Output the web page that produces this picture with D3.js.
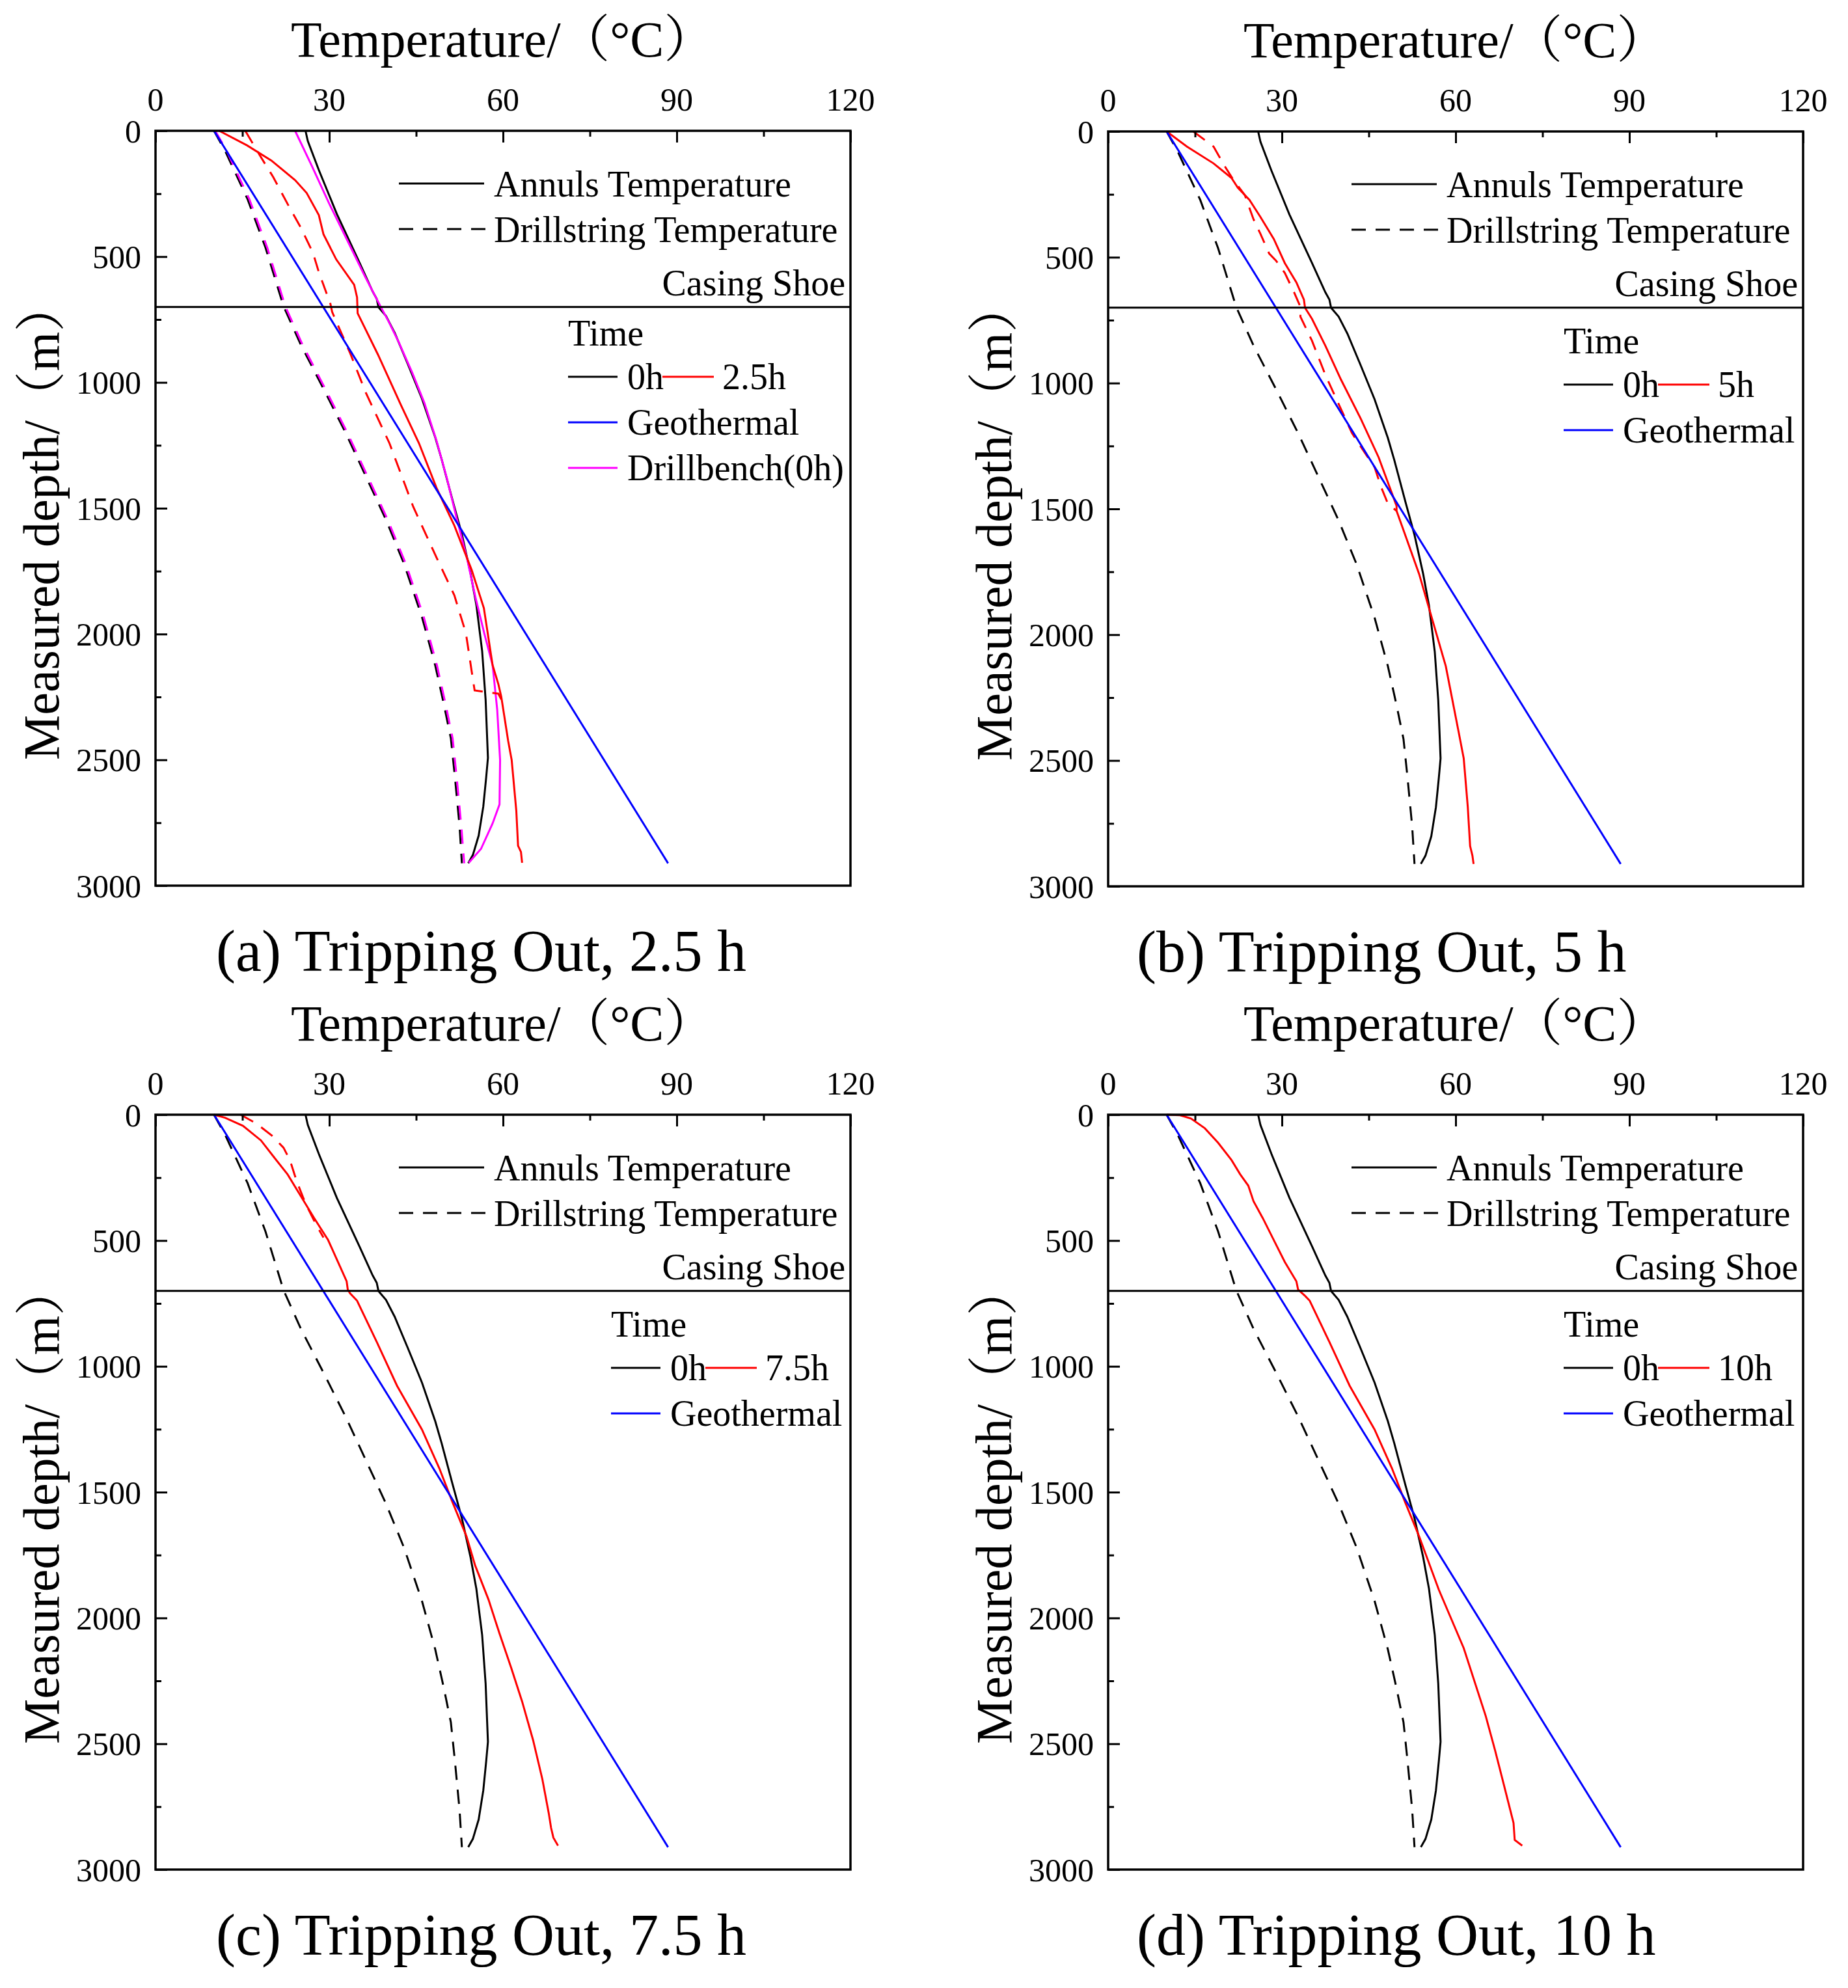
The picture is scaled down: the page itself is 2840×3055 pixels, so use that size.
<!DOCTYPE html>
<html>
<head>
<meta charset="utf-8">
<script src="https://cdn.jsdelivr.net/npm/d3@7"></script>
<style>
  body { margin: 0; background: #fff; }
  text { font-family: "Liberation Serif", "Times New Roman", "Noto Serif CJK SC", "Noto Sans CJK SC", serif; fill: #000; }
</style>
</head>
<body>
<svg id="chart" width="2840" height="3055"></svg>
<script>
"use strict";

// axis ticks
var tempTicks = [0, 30, 60, 90, 120];
var tempMinorTicks = [15, 45, 75, 105];
var depthTicks = [0, 500, 1000, 1500, 2000, 2500, 3000];
var depthMinorTicks = [250, 750, 1250, 1750, 2250, 2750];
var casingShoeDepth = 700;

// every point is [temperature (°C), measured depth (m)]
var geothermal = [[10.1, 0], [88.5, 2911]];

var annulus0h = [[25.9, 0], [26.3, 41], [28.2, 156], [31.3, 330], [35.2, 523], [37.5, 639], [38.2, 668],
    [38.5, 701], [39.8, 736], [41.3, 803], [43.6, 929], [46.0, 1064], [48.3, 1218], [49.4, 1305],
    [51.3, 1469], [52.9, 1604], [54.4, 1759], [55.4, 1884], [56.4, 2068], [57.0, 2261], [57.4, 2492],
    [57.1, 2569], [56.6, 2685], [55.8, 2801], [54.8, 2878], [54.0, 2911]];

var drillstring0h = [[10.1, 0], [12.0, 79], [15.9, 272], [19.0, 465], [22.1, 697], [25.1, 851], [29.0, 1025],
    [32.8, 1199], [36.7, 1392], [39.8, 1546], [42.9, 1720], [46.0, 1932], [48.3, 2125], [49.8, 2280],
    [51.0, 2415], [51.7, 2569], [52.5, 2763], [52.9, 2911]];

// (a) 2.5 h
var annulus2_5h = [[11.0, 0], [15.8, 58], [20.0, 118], [24.1, 196], [26.1, 247], [28.2, 335], [29.0, 411],
    [31.2, 511], [34.3, 612], [34.8, 662], [34.9, 725], [38.4, 889], [42.4, 1091], [45.5, 1242],
    [48.5, 1418], [51.6, 1569], [54.6, 1746], [56.7, 1897], [58.2, 2123], [59.2, 2199], [59.7, 2249],
    [60.9, 2426], [61.5, 2501], [62.3, 2703], [62.6, 2841], [63.1, 2866], [63.3, 2909]];

var drillstring2_5h = [[15.5, 0], [18.1, 101], [20.3, 183], [23.0, 299], [25.1, 385], [27.2, 486],
    [28.2, 562], [30.2, 688], [30.5, 720], [33.7, 889], [36.3, 1040], [40.4, 1242], [44.5, 1494],
    [48.5, 1695], [51.6, 1846], [53.6, 1997], [54.6, 2149], [55.1, 2224], [59.2, 2237], [59.7, 2260]];

var drillbenchAnnulus0h = [[24.1, 0], [27.0, 140], [30.0, 290], [33.0, 430], [36.2, 580], [38.9, 700],
    [40.3, 760], [42.0, 840], [44.3, 960], [46.4, 1080], [48.5, 1230], [50.3, 1380], [52.0, 1540],
    [53.8, 1700], [55.3, 1860], [56.8, 2000], [58.2, 2123], [59.0, 2300], [59.5, 2501], [59.4, 2677],
    [58.2, 2753], [56.2, 2854], [54.1, 2909]];

var drillbenchDrillstring0h = [[10.3, 0], [12.3, 80], [16.2, 272], [19.3, 465], [22.4, 697], [25.4, 851],
    [29.3, 1025], [33.1, 1199], [37.0, 1392], [40.1, 1546], [43.2, 1720], [46.3, 1931], [48.6, 2125],
    [50.1, 2280], [51.3, 2415], [52.0, 2569], [52.8, 2763], [53.3, 2911]];

// (b) 5 h
var annulus5h = [[10.1, 0], [13.6, 60], [18.2, 127], [21.3, 185], [22.4, 224], [24.4, 272], [26.3, 340],
    [28.6, 427], [30.5, 523], [32.5, 600], [33.8, 668], [34.0, 701], [35.2, 745], [37.5, 851],
    [40.2, 986], [43.6, 1141], [46.7, 1295], [49.8, 1488], [49.8, 1508], [51.3, 1604], [53.7, 1759],
    [56.0, 1942], [58.3, 2125], [60.6, 2396], [61.4, 2492], [62.1, 2685], [62.5, 2840], [62.9, 2878],
    [63.1, 2911]];

var drillstring5h = [[14.7, 0], [18.2, 60], [20.1, 137], [21.7, 195], [23.6, 253], [25.1, 349], [26.3, 407],
    [27.8, 485], [29.0, 514], [30.5, 562], [32.1, 639], [33.2, 697], [33.2, 736], [35.2, 832],
    [37.5, 967], [39.8, 1083], [42.1, 1199], [44.0, 1266], [46.0, 1334], [47.1, 1411], [48.3, 1479],
    [49.8, 1508]];

// (c) 7.5 h
var annulus7_5h = [[10.1, 0], [12.0, 12], [15.1, 44], [18.2, 102], [20.5, 170], [22.8, 237], [25.1, 324],
    [27.4, 411], [29.8, 498], [31.7, 595], [33.0, 662], [33.2, 695], [33.6, 710], [34.8, 739],
    [38.2, 903], [41.7, 1077], [46.0, 1251], [49.0, 1405], [51.3, 1541], [53.7, 1676], [55.2, 1792],
    [57.5, 1927], [59.4, 2062], [61.4, 2197], [63.3, 2332], [65.2, 2486], [66.8, 2641], [67.9, 2776],
    [68.3, 2834], [68.7, 2873], [69.5, 2905]];

var drillstring7_5h = [[14.7, 0], [17.4, 35], [20.1, 83], [22.1, 131], [23.2, 180], [24.4, 266],
    [25.9, 353], [27.8, 440], [29.0, 488]];

// (d) 10 h
var annulus10h = [[10.1, 0], [12.4, 2], [14.3, 15], [16.7, 54], [19.0, 112], [21.3, 180], [22.8, 237],
    [24.2, 282], [25.1, 344], [26.7, 411], [28.6, 498], [30.5, 585], [32.5, 662], [32.8, 695],
    [34.0, 720], [34.8, 739], [38.2, 903], [41.7, 1077], [46.0, 1251], [49.0, 1405], [51.3, 1541],
    [53.7, 1676], [57.1, 1888], [61.4, 2120], [65.2, 2390], [66.8, 2525], [68.3, 2660], [70.0, 2815],
    [70.2, 2882], [71.5, 2905]];

// panel layout
var plotWidth = 1068;
var plotHeight = 1160;
var black = "#000000", red = "#ff0000", blue = "#0000ff", pink = "#ff00ff";
var serif = "Liberation Serif, Times New Roman, Noto Sans CJK SC, serif";

var panels = [
    { left: 239, top: 201, caption: "(a) Tripping Out, 2.5 h", captionX: 93, timeLabel: "2.5h", legendX: 634, legendY: 330,
      series: [
        { data: annulus0h, color: black, dashed: false },
        { data: drillstring0h, color: black, dashed: true },
        { data: drillbenchAnnulus0h, color: pink, dashed: false },
        { data: drillbenchDrillstring0h, color: pink, dashed: true },
        { data: annulus2_5h, color: red, dashed: false },
        { data: drillstring2_5h, color: red, dashed: true }
      ], drillbench: true },
    { left: 1703, top: 202, caption: "(b) Tripping Out, 5 h", captionX: 44, timeLabel: "5h", legendX: 700, legendY: 341,
      series: [
        { data: annulus0h, color: black, dashed: false },
        { data: drillstring0h, color: black, dashed: true },
        { data: annulus5h, color: red, dashed: false },
        { data: drillstring5h, color: red, dashed: true }
      ], drillbench: false },
    { left: 239, top: 1713, caption: "(c) Tripping Out, 7.5 h", captionX: 93, timeLabel: "7.5h", legendX: 700, legendY: 341,
      series: [
        { data: annulus0h, color: black, dashed: false },
        { data: drillstring0h, color: black, dashed: true },
        { data: annulus7_5h, color: red, dashed: false },
        { data: drillstring7_5h, color: red, dashed: true }
      ], drillbench: false },
    { left: 1703, top: 1713, caption: "(d) Tripping Out, 10 h", captionX: 44, timeLabel: "10h", legendX: 700, legendY: 341,
      series: [
        { data: annulus0h, color: black, dashed: false },
        { data: drillstring0h, color: black, dashed: true },
        { data: annulus10h, color: red, dashed: false }
      ], drillbench: false }
];

var svg = d3.select("#chart");
svg.append("rect").attr("width", 2840).attr("height", 3055).attr("fill", "#fff");

var xScale = d3.scaleLinear().domain([0, 120]).range([0, plotWidth]);
var yScale = d3.scaleLinear().domain([0, 3000]).range([0, plotHeight]);

var line = d3.line()
    .x(function (d) { return xScale(d[0]); })
    .y(function (d) { return yScale(d[1]); });

var dash = "22,15";

// small helper so every label gets the same serif face
function label(parent, x, y, size, str) {
    return parent.append("text")
        .attr("x", x).attr("y", y)
        .attr("font-family", serif)
        .attr("font-size", size)
        .text(str);
}

function drawPanel(p) {
    var g = svg.append("g").attr("transform", "translate(" + p.left + "," + p.top + ")");

    // curves
    p.series.forEach(function (s) {
        g.append("path")
            .datum(s.data)
            .attr("d", line)
            .attr("fill", "none")
            .attr("stroke", s.color)
            .attr("stroke-width", 3)
            .attr("stroke-dasharray", s.dashed ? dash : null);
    });
    g.append("path")
        .datum(geothermal)
        .attr("d", line)
        .attr("fill", "none")
        .attr("stroke", blue)
        .attr("stroke-width", 3);

    // casing shoe line
    g.append("line")
        .attr("x1", 0).attr("x2", plotWidth)
        .attr("y1", yScale(casingShoeDepth)).attr("y2", yScale(casingShoeDepth))
        .attr("stroke", black).attr("stroke-width", 3);

    // frame
    g.append("rect")
        .attr("width", plotWidth).attr("height", plotHeight)
        .attr("fill", "none").attr("stroke", black).attr("stroke-width", 3.5);

    // top axis, ticks point inward
    var xg = g.append("g");
    xg.call(d3.axisTop(xScale).tickValues(tempTicks).tickSize(-18).tickFormat(""));
    xg.append("g").call(d3.axisTop(xScale).tickValues(tempMinorTicks).tickSize(-9).tickFormat(""));
    xg.selectAll(".domain").remove();
    xg.selectAll(".tick line").attr("stroke", black).attr("stroke-width", 3);

    tempTicks.forEach(function (t) {
        label(g, xScale(t), -31, 50, t).attr("text-anchor", "middle");
    });

    // left axis
    var yg = g.append("g");
    yg.call(d3.axisLeft(yScale).tickValues(depthTicks).tickSize(-18).tickFormat(""));
    yg.append("g").call(d3.axisLeft(yScale).tickValues(depthMinorTicks).tickSize(-9).tickFormat(""));
    yg.selectAll(".domain").remove();
    yg.selectAll(".tick line").attr("stroke", black).attr("stroke-width", 3);

    depthTicks.forEach(function (d) {
        label(g, -22, yScale(d), 50, d).attr("dy", "0.35em").attr("text-anchor", "end");
    });

    // axis titles
    var xt = label(g, 208, -114, 78, "Temperature/ ");
    xt.append("tspan").attr("dx", -22).text("（°C）");

    var yt = g.append("text")
        .attr("transform", "translate(-149,599) rotate(-90)")
        .attr("text-anchor", "middle")
        .attr("font-family", serif)
        .attr("font-size", 78)
        .text("Measured depth/ ");
    yt.append("tspan").attr("dx", -22).text("（m）");

    // caption
    label(g, p.captionX, 1291, 90, p.caption);

    // legend: line styles
    g.append("line").attr("x1", 374).attr("x2", 505).attr("y1", 81).attr("y2", 81)
        .attr("stroke", black).attr("stroke-width", 3);
    label(g, 520, 101, 56, "Annuls Temperature");
    g.append("line").attr("x1", 374).attr("x2", 507).attr("y1", 151).attr("y2", 151)
        .attr("stroke", black).attr("stroke-width", 3).attr("stroke-dasharray", dash);
    label(g, 520, 171, 56, "Drillstring Temperature");
    label(g, 1060, 253, 56, "Casing Shoe").attr("text-anchor", "end");

    // legend: time
    var lx = p.legendX, ly = p.legendY;
    label(g, lx, ly, 56, "Time");
    var row1 = ly + 48;
    g.append("line").attr("x1", lx).attr("x2", lx + 76).attr("y1", row1).attr("y2", row1)
        .attr("stroke", black).attr("stroke-width", 3);
    label(g, lx + 91, row1 + 19, 56, "0h");
    g.append("line").attr("x1", lx + 145).attr("x2", lx + 224).attr("y1", row1).attr("y2", row1)
        .attr("stroke", red).attr("stroke-width", 3);
    label(g, lx + 237, row1 + 19, 56, p.timeLabel);

    var row2 = row1 + 70;
    g.append("line").attr("x1", lx).attr("x2", lx + 76).attr("y1", row2).attr("y2", row2)
        .attr("stroke", blue).attr("stroke-width", 3);
    label(g, lx + 91, row2 + 19, 56, "Geothermal");

    if (p.drillbench) {
        var row3 = row2 + 70;
        g.append("line").attr("x1", lx).attr("x2", lx + 76).attr("y1", row3).attr("y2", row3)
            .attr("stroke", pink).attr("stroke-width", 3);
        label(g, lx + 91, row3 + 19, 56, "Drillbench(0h)");
    }
}

panels.forEach(drawPanel);
</script>
</body>
</html>
